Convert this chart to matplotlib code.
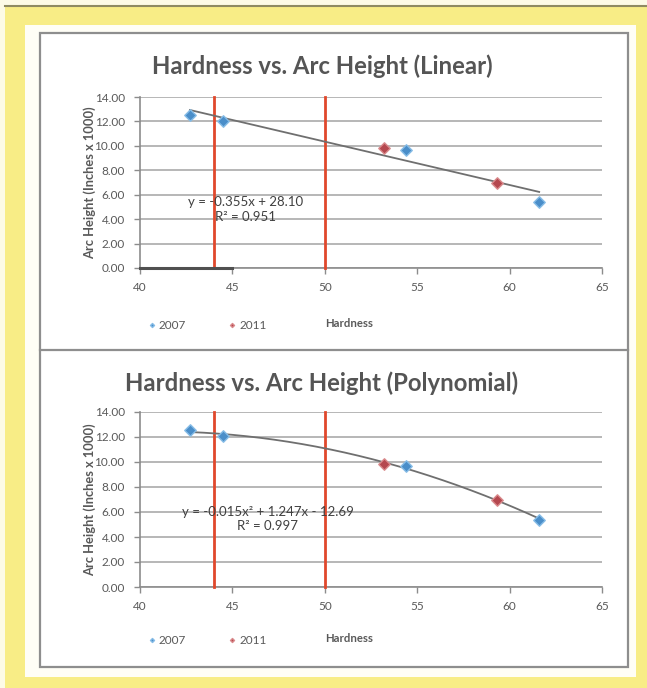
import numpy as np
import matplotlib
matplotlib.use("Agg")
import matplotlib.pyplot as plt
from matplotlib.patches import Rectangle

W, H = 647, 688

# ---- data -------------------------------------------------------------
hard_2007 = [42.7, 44.5, 54.4, 61.6]
arc_2007 = [12.55, 12.05, 9.65, 5.4]
hard_2011 = [53.2, 59.3]
arc_2011 = [9.85, 7.0]
spec_limits = [44, 50]
baseline_span = [40, 45]
x_ticks = [40, 45, 50, 55, 60, 65]
y_ticks = [0, 2, 4, 6, 8, 10, 12, 14]
titles = ["Hardness vs. Arc Height (Linear)",
          "Hardness vs. Arc Height (Polynomial)"]
fit_degrees = [1, 2]
fit_labels = ["y = -0.355x + 28.10\nR\u00b2 = 0.951",
              "y = -0.015x\u00b2 + 1.247x - 12.69\nR\u00b2 = 0.997"]
legend_labels = ["2007", "2011"]

# ---- style ------------------------------------------------------------
plt.rcParams['font.family'] = ['Lato', 'DejaVu Sans']
TXT = '#595959'
AX = '#8c8c8c'
BLUE = '#4a8ec9'
BLUE_EDGE = '#86bce6'
RED = '#b5484f'
RED_EDGE = '#d98a8c'
LIMIT = '#e0482c'
TREND = '#6f6f6f'


def box(l, t, r, b):
    return [l / W, 1 - b / H, (r - l) / W, (b - t) / H]


fig = plt.figure(figsize=(W / 100, H / 100), dpi=100)

# page background: yellow band, cream inset, grey chart frame
bg = fig.add_axes([0, 0, 1, 1], zorder=-10)
bg.set_xlim(0, W)
bg.set_ylim(H, 0)
bg.axis('off')
bg.add_patch(Rectangle((0, 0), W, H, facecolor='#fdfbe6', edgecolor='none'))
bg.add_patch(Rectangle((5, 5), W - 5, H - 5, facecolor='#f8ed86', edgecolor='none'))
bg.plot([5, W], [5.5, 5.5], color='#8f8b62', lw=1.5)
bg.add_patch(Rectangle((25, 25), 611, 652, facecolor='#fffef6', edgecolor='none'))
bg.add_patch(Rectangle((40, 33), 588, 634, facecolor='white', edgecolor='#8e8e8e', lw=1.6))
bg.plot([40, 628], [350, 350], color='#8e8e8e', lw=1.6)

panels = [
    dict(rect=box(140, 97, 602, 268), title_y=66, legend_y=325, eq=(45.7, 4.78)),
    dict(rect=box(140, 412, 602, 587), title_y=383, legend_y=640, eq=(46.9, 5.44)),
]

all_x = np.array(hard_2007 + hard_2011)
all_y = np.array(arc_2007 + arc_2011)

for i, p in enumerate(panels):
    ax = fig.add_axes(p['rect'])
    ax.set_xlim(x_ticks[0], x_ticks[-1])
    ax.set_ylim(y_ticks[0], y_ticks[-1])
    ax.set_xticks(x_ticks)
    ax.set_yticks(y_ticks)
    ax.set_yticklabels([f"{v:.2f}" for v in y_ticks])
    ax.tick_params(direction='out', length=4, width=1, color=AX,
                   labelsize=8.5, labelcolor=TXT, pad=7)
    ax.tick_params(axis='x', pad=6)
    for s in ['top', 'right']:
        ax.spines[s].set_visible(False)
    for s in ['left', 'bottom']:
        ax.spines[s].set_color(AX)
        ax.spines[s].set_linewidth(1.2)
    ax.grid(axis='y', color='#a3a3a3', lw=1.1)
    ax.set_axisbelow(True)

    # specification limits
    for xv in spec_limits:
        ax.plot([xv, xv], [y_ticks[0], y_ticks[-1]], color=LIMIT, lw=2, zorder=3,
                clip_on=False)
    if i == 0:
        ax.plot(baseline_span, [0, 0], color='#505050', lw=2.2, zorder=3, clip_on=False)

    # trendline fitted over both years
    coef = np.polyfit(all_x, all_y, fit_degrees[i])
    xs = np.linspace(all_x.min(), all_x.max(), 200)
    ax.plot(xs, np.polyval(coef, xs), color=TREND, lw=1.3, zorder=4)

    h1 = ax.scatter(hard_2007, arc_2007, marker='D', s=34, color=BLUE,
                    edgecolors=BLUE_EDGE, linewidths=1, zorder=5)
    h2 = ax.scatter(hard_2011, arc_2011, marker='D', s=34, color=RED,
                    edgecolors=RED_EDGE, linewidths=1, zorder=5)

    ax.text(p['eq'][0], p['eq'][1], fit_labels[i], ha='center', va='center',
            fontsize=9.5, color='#404040', linespacing=1.3, zorder=6)

    ax.set_ylabel("Arc Height (Inches x 1000)", fontsize=9.3, fontweight='bold',
                  color=TXT, va='center')
    ax.yaxis.set_label_coords(-(140 - 90) / 462, 0.5)

    fig.text(349 / W, 1 - (p['legend_y'] - 2) / H, "Hardness", ha='center',
             va='center', fontsize=8.2, fontweight='bold', color=TXT)
    fig.text(322 / W, 1 - p['title_y'] / H, titles[i], ha='center', va='center',
             fontsize=17.2, fontweight='bold', color='#555555')

    leg = ax.legend([h1, h2], legend_labels, ncol=2, frameon=False,
                    loc='center left',
                    bbox_to_anchor=(148 / W, 1 - p['legend_y'] / H),
                    bbox_transform=fig.transFigure, fontsize=8.5,
                    markerscale=0.35, handlelength=0.6, handletextpad=0.3,
                    columnspacing=3.6, borderpad=0, borderaxespad=0)
    for t in leg.get_texts():
        t.set_color(TXT)

fig.savefig("out.png", dpi=100)
